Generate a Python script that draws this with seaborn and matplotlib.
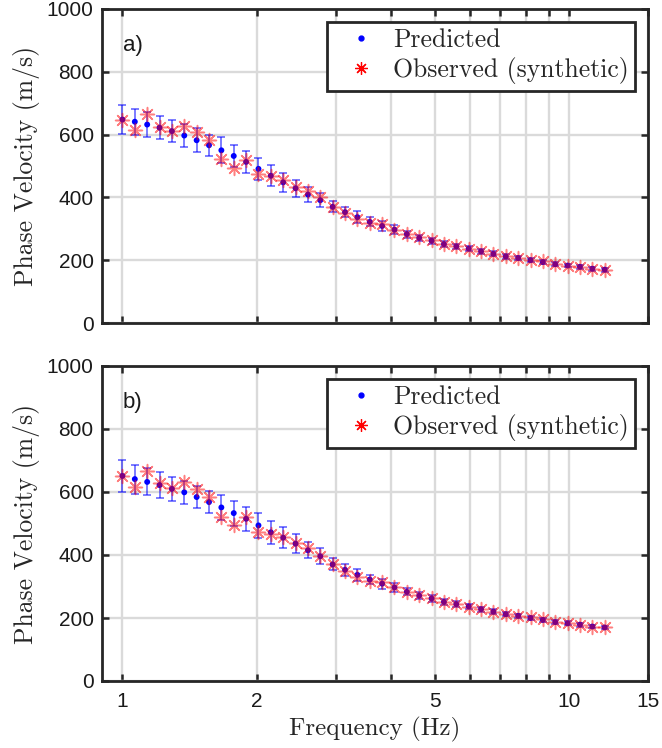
import numpy as np
import pandas as pd
import seaborn as sns
import matplotlib
matplotlib.use("Agg")
import matplotlib.pyplot as plt
from matplotlib.lines import Line2D
from matplotlib.ticker import FixedLocator, FixedFormatter, NullLocator

# ---------------- data ----------------
freq = [1.0000, 1.0658, 1.1359, 1.2106, 1.2903, 1.3752, 1.4657, 1.5621, 1.6648, 1.7744,
        1.8911, 2.0155, 2.1481, 2.2895, 2.4401, 2.6006, 2.7717, 2.9540, 3.1484, 3.3555,
        3.5763, 3.8115, 4.0623, 4.3296, 4.6144, 4.9180, 5.2415, 5.5864, 5.9539, 6.3456,
        6.7631, 7.2080, 7.6822, 8.1876, 8.7263, 9.3004, 9.9122, 10.5644, 11.2594, 12.0001]

pred_a = [648, 641, 632, 622, 611, 597, 582, 566, 550, 532, 513, 491, 469, 448, 429, 409, 391, 370, 353, 337,
          322, 309, 297, 283, 271, 262, 251, 244, 237, 228, 220, 212, 207, 200, 194, 187, 183, 179, 173, 170]
obs_a = [648, 614, 666, 624, 611, 627, 608, 582, 521, 493, 519, 473, 468, 455, 434, 420, 400, 371, 350, 331,
         319, 314, 297, 283, 273, 265, 252, 244, 235, 228, 220, 213, 207, 202, 197, 187, 183, 179, 173, 170]
err_a = [45, 42, 40, 37, 36, 36, 38, 34, 41, 35, 35, 35, 34, 31, 28, 25, 22, 17, 17, 20,
         14, 16, 14, 11, 10, 10, 9, 9, 8, 8, 8, 7, 7, 7, 7, 6, 6, 6, 6, 6]

pred_b = [651, 641, 632, 622, 610, 599, 584, 568, 551, 533, 515, 494, 472, 455, 436, 415, 396, 370, 353, 337,
          322, 309, 297, 283, 271, 262, 251, 244, 237, 228, 220, 212, 207, 200, 194, 187, 183, 179, 173, 170]
obs_b = [651, 616, 667, 629, 614, 631, 610, 584, 521, 494, 520, 474, 467, 457, 439, 421, 397, 371, 350, 331,
         319, 314, 297, 283, 273, 265, 252, 244, 235, 228, 220, 213, 207, 202, 197, 187, 183, 179, 173, 170]
err_b = [50, 46, 43, 40, 37, 36, 36, 36, 41, 40, 38, 39, 36, 34, 30, 26, 25, 19, 20, 20,
         15, 16, 13, 11, 10, 10, 9, 9, 8, 8, 8, 7, 7, 7, 7, 6, 6, 6, 6, 6]

panel_labels = ["a)", "b)"]
xticks = [1, 2, 3, 4, 5, 6, 7, 8, 9, 10, 15]
xticklabels = ["1", "2", "", "", "5", "", "", "", "", "10", "15"]
yticks = [0, 200, 400, 600, 800, 1000]
legend_labels = ["Predicted", "Observed (synthetic)"]

# ---------------- style ----------------
sns.set_theme(style="white")
plt.rcParams["font.family"] = ["Liberation Sans", "DejaVu Sans"]
SERIF = ["cmr10", "DejaVu Serif"]
plt.rcParams["axes.unicode_minus"] = False

W, H = 662, 748
fig = plt.figure(figsize=(W / 100, H / 100), dpi=100)
fig.patch.set_facecolor("white")

def axes_rect(left, top, right, bottom):
    return [left / W, 1 - bottom / H, (right - left) / W, (bottom - top) / H]

ax_a = fig.add_axes(axes_rect(102, 9, 648, 323))
ax_b = fig.add_axes(axes_rect(102, 366, 648, 681))

ASTER = (8, 2, 0)
dark = "#262626"

for ax, pred, obs, err, lab, show_x in [
    (ax_a, pred_a, obs_a, err_a, panel_labels[0], False),
    (ax_b, pred_b, obs_b, err_b, panel_labels[1], True),
]:
    df = pd.DataFrame({"freq": freq, "pred": pred, "obs": obs, "err": err})
    ax.set_xscale("log")
    ax.errorbar(df["freq"], df["pred"], yerr=df["err"], fmt="none",
                ecolor=(0, 0, 1, 0.6), elinewidth=1.2, capsize=3.2, capthick=1.2, zorder=2)
    sns.scatterplot(data=df, x="freq", y="pred", ax=ax, color="blue", s=18,
                    edgecolor="none", zorder=3, legend=False)
    sns.scatterplot(data=df, x="freq", y="obs", ax=ax, color="red", marker=ASTER,
                    s=100, linewidth=1.1, alpha=0.5, zorder=4, legend=False)

    ax.set_xlim(0.9, 15)
    ax.set_ylim(0, 1000)
    ax.xaxis.set_major_locator(FixedLocator(xticks))
    ax.xaxis.set_minor_locator(NullLocator())
    if show_x:
        ax.xaxis.set_major_formatter(FixedFormatter(xticklabels))
        ax.set_xlabel("Frequency (Hz)", family=SERIF, fontsize=18, color=dark, labelpad=4)
    else:
        ax.xaxis.set_major_formatter(FixedFormatter([""] * len(xticks)))
        ax.set_xlabel("")
    ax.set_yticks(yticks)
    ax.set_yticklabels([str(v) for v in yticks])
    ax.set_ylabel("Phase Velocity (m/s)", family=SERIF, fontsize=18.5, color=dark, labelpad=5)

    ax.grid(True, which="major", color="#dadada", linewidth=1.7, zorder=0)
    ax.set_axisbelow(True)
    for sp in ax.spines.values():
        sp.set_visible(True)
        sp.set_color(dark)
        sp.set_linewidth(2.0)
    ax.tick_params(axis="both", which="major", direction="in", length=5, width=1.8,
                   color=dark, labelsize=15, labelcolor="#1a1a1a",
                   top=True, right=True, bottom=True, left=True)
    ax.tick_params(axis="y", pad=6)
    ax.tick_params(axis="x", pad=8)

    ax.text(0.038, 0.885, lab, transform=ax.transAxes, fontsize=16,
            color="#1a1a1a", ha="left", va="center")

    handles = [
        Line2D([], [], linestyle="none", marker="o", markersize=3.5, color="blue"),
        Line2D([], [], linestyle="none", marker=ASTER, markersize=9, color="red",
               markeredgewidth=0.9),
    ]
    leg = ax.legend(handles, legend_labels, loc="upper right", frameon=True,
                    fancybox=False, prop={"family": SERIF, "size": 18.5},
                    borderaxespad=0.5, handletextpad=0.2, handlelength=2.1,
                    borderpad=0.25, labelspacing=0.2)
    leg.get_frame().set_edgecolor(dark)
    leg.get_frame().set_linewidth(2.0)
    leg.get_frame().set_alpha(1)

fig.savefig("out.png", dpi=100, facecolor="white")
